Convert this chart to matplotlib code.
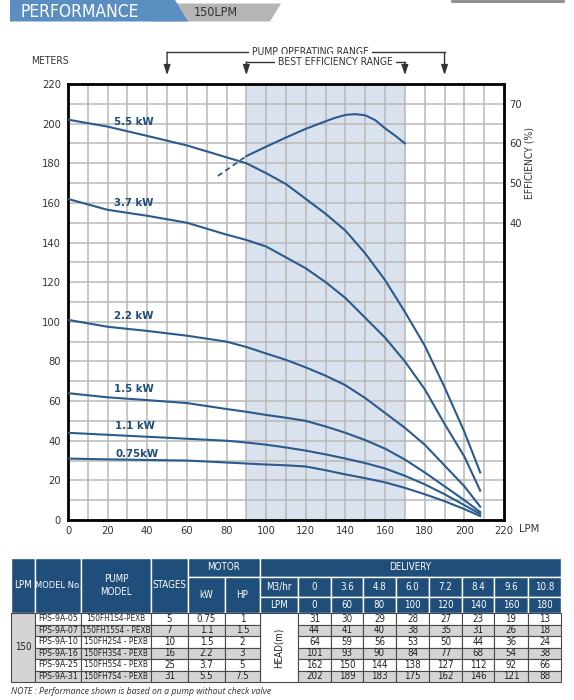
import os
import matplotlib
matplotlib.use('Agg')
import matplotlib.pyplot as plt
from matplotlib import font_manager
from matplotlib.patches import Rectangle, Polygon

# ---------- find a condensed font if one is installed ----------
def find_font(keys):
    files = {os.path.basename(f.fname).lower(): f for f in font_manager.fontManager.ttflist}
    for k in keys:
        if k in files:
            return files[k]
    return None

reg = find_font(['dejavusanscondensed.ttf', 'liberationsansnarrow-regular.ttf',
                 'robotocondensed-regular.ttf', 'opensans-condensedlight.ttf'])
CONDENSED = reg is not None
if CONDENSED:
    FAM = reg.name
    plt.rcParams['font.family'] = [FAM, 'DejaVu Sans']
    plt.rcParams['font.stretch'] = reg.stretch
else:
    FAM = 'Roboto'
    plt.rcParams['font.family'] = ['Roboto', 'DejaVu Sans']
SCALE = 1.0 if CONDENSED else 0.86

# ---------------- data ----------------
flow = [0, 20, 40, 60, 80, 90, 100, 110, 120, 130, 140, 150, 160, 170, 180, 190, 200, 208]
head_55 = [202, 198.5, 193.8, 189, 183, 180, 175, 169.5, 162, 154.5, 146, 134.5, 121, 105, 88, 67, 44.5, 24]
head_37 = [162, 156.5, 153.5, 150, 144, 141.3, 138, 132.5, 127, 120, 112, 102, 92, 80, 66, 48.5, 32, 14.8]
head_22 = [101, 97.5, 95.4, 93, 90, 87.3, 84, 80.8, 77, 72.8, 68, 61.5, 54, 46.5, 38, 27.5, 17, 6.7]
head_15 = [64, 61.9, 60.5, 59, 56, 54.6, 53, 51.6, 50, 47.2, 44, 40.3, 36, 30.5, 24, 17, 10, 4]
head_11 = [44, 43, 42, 41, 40, 39.1, 38, 36.6, 35, 33.1, 31, 28.7, 26, 22.3, 18, 13, 7.5, 3]
head_075 = [31, 30.6, 30.3, 30, 29, 28.5, 28, 27.6, 27, 25.1, 23, 21.1, 19, 16.2, 13, 9.5, 5.5, 2]
curve_labels = ['5.5 kW', '3.7 kW', '2.2 kW', '1.5 kW', '1.1 kW', '0.75kW']

eff_flow_dash = [75.6, 90]
eff_dash = [51.8, 56.8]
eff_flow = [90, 100, 110, 120, 130, 135, 140, 145, 150, 155, 160, 165, 170]
eff_vals = [56.8, 59.2, 61.5, 63.7, 65.6, 66.5, 67.2, 67.4, 67.1, 65.9, 63.8, 62.0, 60.0]

pump_range = (50, 190)
best_range = (90, 170)

# table
tbl_models = ['FPS-9A-05', 'FPS-9A-07', 'FPS-9A-10', 'FPS-9A-16', 'FPS-9A-25', 'FPS-9A-31']
tbl_pump = ['150FH1S4-PEXB', '150FH15S4 - PEXB', '150FH2S4 - PEXB', '150FH3S4 - PEXB',
            '150FH5S4 - PEXB', '150FH7S4 - PEXB']
tbl_stages = ['5', '7', '10', '16', '25', '31']
tbl_kw = ['0.75', '1.1', '1.5', '2.2', '3.7', '5.5']
tbl_hp = ['1', '1.5', '2', '3', '5', '7.5']
tbl_m3 = ['0', '3.6', '4.8', '6.0', '7.2', '8.4', '9.6', '10.8']
tbl_lpm = ['0', '60', '80', '100', '120', '140', '160', '180']
tbl_heads = [
    [31, 30, 29, 28, 27, 23, 19, 13],
    [44, 41, 40, 38, 35, 31, 26, 18],
    [64, 59, 56, 53, 50, 44, 36, 24],
    [101, 93, 90, 84, 77, 68, 54, 38],
    [162, 150, 144, 138, 127, 112, 92, 66],
    [202, 189, 183, 175, 162, 146, 121, 88],
]

# ---------------- figure ----------------
W, H = 574, 700
fig = plt.figure(figsize=(W / 100, H / 100), dpi=100)
fig.patch.set_facecolor('white')

CURVE = '#2a5b8e'
LABEL = '#1f4e79'
GRID = '#b8b8b8'
TXT = '#333333'

ax = fig.add_axes([68 / W, 1 - 520 / H, 436 / W, 436 / H])
ax.set_xlim(0, 220)
ax.set_ylim(0, 220)
ax.set_xticks(range(0, 221, 20))
ax.set_yticks(range(0, 221, 20))
ax.set_xticks(range(10, 220, 20), minor=True)
ax.set_yticks(range(10, 220, 20), minor=True)
ax.grid(True, which='both', color=GRID, lw=1.1)
ax.set_axisbelow(True)
ax.axvspan(best_range[0], best_range[1], color='#dae2ed', zorder=0, lw=0)
for s in ax.spines.values():
    s.set_linewidth(2)
    s.set_color('black')
ax.tick_params(which='both', length=0)
ax.tick_params(axis='x', pad=4, labelsize=8 * SCALE, colors=TXT)
ax.tick_params(axis='y', pad=5, labelsize=8 * SCALE, colors=TXT)

series = [head_55, head_37, head_22, head_15, head_11, head_075]
label_pos = [(33, 201), (33, 160), (33, 103), (33, 66), (34, 47.5), (35, 33.5)]
for h, lab, (lx, ly) in zip(series, curve_labels, label_pos):
    ax.plot(flow, h, color=CURVE, lw=1.5, zorder=3)
    ax.text(lx, ly, lab, color=LABEL, fontsize=8.2 * SCALE, fontweight='bold',
            ha='center', va='center', zorder=4)

ax2 = ax.twinx()
ax2.set_ylim(-35, 75)
ax2.set_yticks([40, 50, 60, 70])
ax2.tick_params(length=0, pad=4, labelsize=8 * SCALE, colors=TXT)
for s in ax2.spines.values():
    s.set_visible(False)
ax2.plot(eff_flow, eff_vals, color=CURVE, lw=1.5, zorder=3)
ax2.plot(eff_flow_dash, eff_dash, color=CURVE, lw=1.3, ls=(0, (3, 2)), zorder=3)

# range annotations
ARR = '#333333'
yp, yb, ytip = 236, 231, 224.5
ax.plot([pump_range[0], pump_range[1]], [yp, yp], color=ARR, lw=1, clip_on=False)
ax.plot([best_range[0], best_range[1]], [yb, yb], color=ARR, lw=1, clip_on=False)
for x0, y0 in [(pump_range[0], yp), (pump_range[1], yp), (best_range[0], yb), (best_range[1], yb)]:
    ax.annotate('', xy=(x0, ytip), xytext=(x0, y0), annotation_clip=False,
                arrowprops=dict(arrowstyle='-|>,head_length=0.6,head_width=0.2',
                                color=ARR, lw=1, shrinkA=0, shrinkB=0))
box = dict(boxstyle='square,pad=0.3', fc='white', ec='none')
ax.text(122.5, yp, 'PUMP OPERATING RANGE', ha='center', va='center',
        fontsize=7.5 * SCALE, color=TXT, clip_on=False, bbox=box, zorder=5)
ax.text(135, yb, 'BEST EFFICIENCY RANGE', ha='center', va='center',
        fontsize=7.5 * SCALE, color=TXT, clip_on=False, bbox=box, zorder=5)

# ---------------- overlay (pixel coords) ----------------
ov2 = fig.add_axes([0, 0, 1, 1], zorder=5)
ov2.set_xlim(0, W)
ov2.set_ylim(H, 0)
ov2.axis('off')
ov2.patch.set_alpha(0)

# banner
ov2.add_patch(Polygon([(150, 3.5), (281, 3.5), (270, 21.5), (150, 21.5)],
                      closed=True, fc='#b5b5b5', ec='none'))
ov2.add_patch(Polygon([(10, 0), (175, 0), (188, 21.5), (10, 21.5)],
                      closed=True, fc='#5b8ec0', ec='none'))
ov2.text(20, 12, 'PERFORMANCE', color='white', fontsize=12.5 * SCALE, ha='left', va='center')
ov2.text(216, 13, '150LPM', color='#333333', fontsize=9 * SCALE, ha='center', va='center')
ov2.plot([452, 563], [1, 1], color='#8a8a8a', lw=2)

ov2.text(50, 61, 'METERS', fontsize=7.5 * SCALE, color=TXT, ha='center', va='center')
ov2.text(529, 529, 'LPM', fontsize=8 * SCALE, color=TXT, ha='center', va='center')
ov2.text(529, 163, 'EFFICIENCY (%)', fontsize=7.5 * SCALE, color=TXT, ha='center',
         va='center', rotation=90)

# table
HDR = '#1f4e7b'
cols = [11, 35, 81, 151, 188, 225, 260, 298, 331, 363, 396, 429, 462, 494, 528, 561]
r0, r1, r2, r3 = 558, 577, 597, 613
rows = [613 + i * 11.5 for i in range(7)]
HFS = 7.0 if CONDENSED else 6.0
TFS = 7.0 if CONDENSED else 5.8


def cell(x0, y0, x1, y1, fc, ec, lw, text=None, tc='white', fs=TFS, rot=0, z=1):
    ov2.add_patch(Rectangle((x0, y0), x1 - x0, y1 - y0, fc=fc, ec=ec, lw=lw, zorder=z))
    if text is not None:
        ov2.text((x0 + x1) / 2, (y0 + y1) / 2, text, color=tc, fontsize=fs,
                 ha='center', va='center', rotation=rot, zorder=z + 1,
                 linespacing=1.3)


# header cells
hl = dict(fc=HDR, ec='white', lw=1.0, fs=HFS)
cell(cols[0], r0, cols[1], r3, text='LPM', **hl)
cell(cols[1], r0, cols[2], r3, text='MODEL No.', **dict(hl, fs=HFS * 0.95))
cell(cols[2], r0, cols[3], r3, text='PUMP\nMODEL', **hl)
cell(cols[3], r0, cols[4], r3, text='STAGES', **hl)
cell(cols[4], r0, cols[6], r1, text='MOTOR', **hl)
cell(cols[4], r1, cols[5], r3, text='kW', **hl)
cell(cols[5], r1, cols[6], r3, text='HP', **hl)
cell(cols[6], r0, cols[15], r1, text='DELIVERY', **hl)
cell(cols[6], r1, cols[7], r2, text='M3/hr', **hl)
cell(cols[6], r2, cols[7], r3, text='LPM', **hl)
for j in range(8):
    cell(cols[7 + j], r1, cols[8 + j], r2, text=tbl_m3[j], **hl)
    cell(cols[7 + j], r2, cols[8 + j], r3, text=tbl_lpm[j], **hl)

# body
BE = '#4a4a4a'
BT = '#222222'
GRY = '#d4d4d4'
cell(cols[0], rows[0], cols[1], rows[6], GRY, BE, 0.8, '150', BT, fs=HFS)
cell(cols[6], rows[0], cols[7], rows[6], 'white', BE, 0.8, 'HEAD(m)', BT, fs=HFS, rot=90)
for i in range(6):
    fc = 'white' if i % 2 == 0 else GRY
    vals = [tbl_models[i], tbl_pump[i], tbl_stages[i], tbl_kw[i], tbl_hp[i]]
    for j, v in enumerate(vals):
        fs = TFS * 0.9 if j == 0 else (TFS * 0.84 if j == 1 else TFS)
        cell(cols[1 + j], rows[i], cols[2 + j], rows[i + 1], fc, BE, 0.8, v, BT, fs=fs)
    for j in range(8):
        cell(cols[7 + j], rows[i], cols[8 + j], rows[i + 1], fc, BE, 0.8,
             str(tbl_heads[i][j]), BT)

ov2.text(11, 692, 'NOTE : Performance shown is based on a pump without check valve',
         fontsize=6.3, style='italic', color=TXT, ha='left', va='center',
         family=['Open Sans', 'DejaVu Sans'], fontstretch='normal')

fig.savefig('out.png', dpi=100, facecolor='white')
